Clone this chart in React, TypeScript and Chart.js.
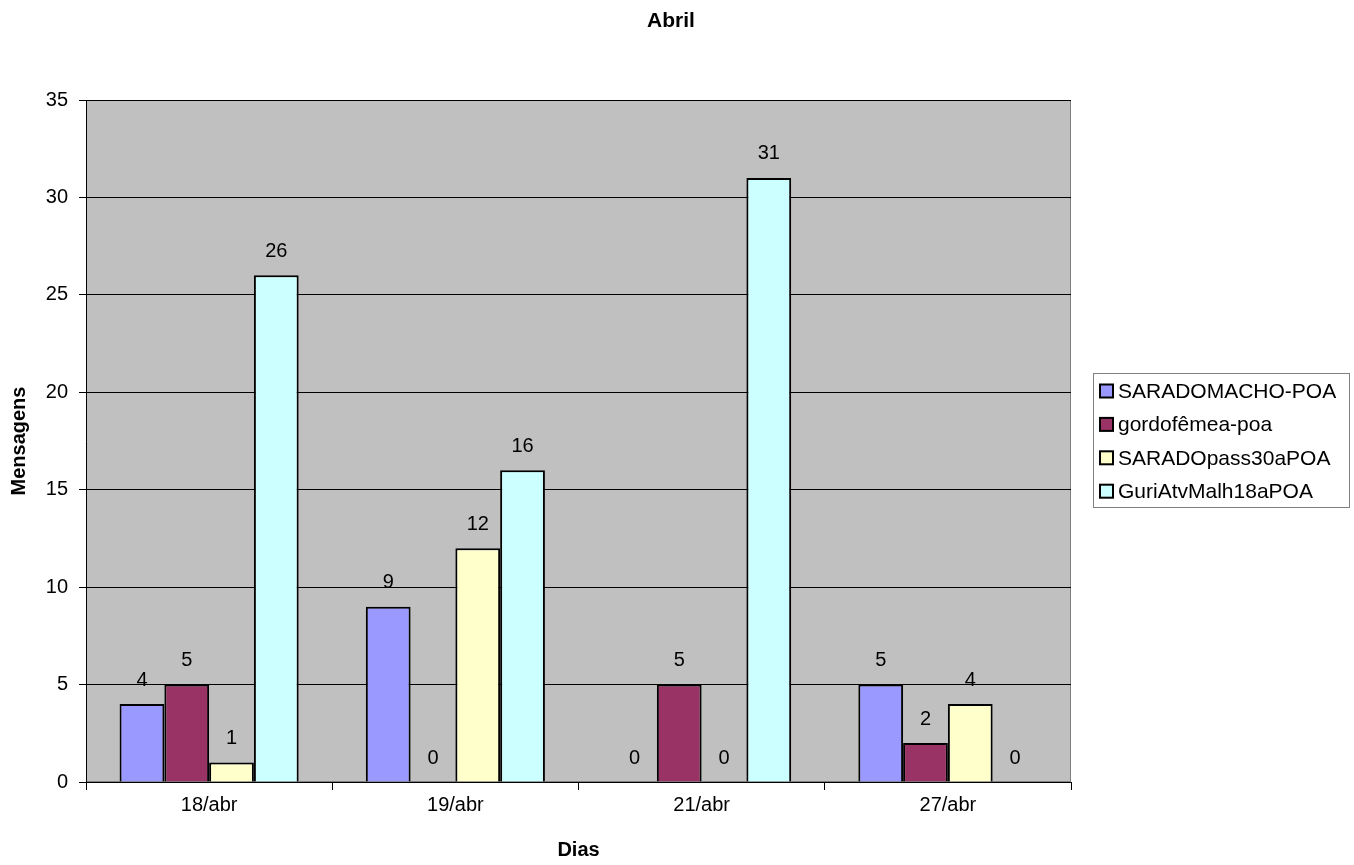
import React, { useEffect, useRef } from "react";
import { Chart, registerables } from "chart.js";

Chart.register(...registerables);

const categories = ["18/abr", "19/abr", "21/abr", "27/abr"];
const seriesNames = ["SARADOMACHO-POA", "gordofêmea-poa", "SARADOpass30aPOA", "GuriAtvMalh18aPOA"];
const saradoMacho = [4, 9, 0, 5];
const gordoFemea = [5, 0, 5, 2];
const saradoPass = [1, 12, 0, 4];
const guriAtv = [26, 16, 31, 0];
const seriesColors = ["#9999FF", "#993366", "#FFFFCC", "#CCFFFF"];
const yTicks = [0, 5, 10, 15, 20, 25, 30, 35];
const chartTitle = "Abril";

const FONT = "'Liberation Sans', Arial, sans-serif";

const plotBg = {
  id: "plotBg",
  beforeDraw(chart: any) {
    const { ctx, chartArea: a } = chart;
    ctx.save();
    ctx.fillStyle = "#C0C0C0";
    ctx.fillRect(a.left, a.top, a.right - a.left, a.bottom - a.top);
    ctx.strokeStyle = "#808080";
    ctx.lineWidth = 1;
    ctx.strokeRect(a.left + 0.5, a.top + 0.5, a.right - a.left - 1, a.bottom - a.top - 1);
    ctx.restore();
  },
  afterDraw(chart: any) {
    const { ctx } = chart;
    ctx.save();
    ctx.font = `bold 21px ${FONT}`;
    ctx.fillStyle = "#000";
    ctx.textAlign = "center";
    ctx.textBaseline = "middle";
    ctx.fillText(chartTitle, 671, 21);
    ctx.restore();
  },
};

const dataLabels = {
  id: "dataLabels",
  afterDatasetsDraw(chart: any) {
    const { ctx } = chart;
    ctx.save();
    ctx.font = `20px ${FONT}`;
    ctx.fillStyle = "#000";
    ctx.textAlign = "center";
    ctx.textBaseline = "middle";
    chart.data.datasets.forEach((ds: any, i: number) => {
      const meta = chart.getDatasetMeta(i);
      meta.data.forEach((bar: any, j: number) => {
        ctx.fillText(String(ds.data[j]), bar.x, bar.y - 24);
      });
    });
    ctx.restore();
  },
};

const customLegend = {
  id: "customLegend",
  afterDraw(chart: any) {
    const { ctx } = chart;
    const x0 = 1093, y0 = 373, w = 257, h = 135;
    ctx.save();
    ctx.fillStyle = "#FFFFFF";
    ctx.fillRect(x0, y0, w, h);
    ctx.strokeStyle = "#808080";
    ctx.lineWidth = 1;
    ctx.strokeRect(x0 + 0.5, y0 + 0.5, w - 1, h - 1);
    ctx.font = `21px ${FONT}`;
    ctx.textBaseline = "middle";
    ctx.textAlign = "left";
    chart.data.datasets.forEach((ds: any, i: number) => {
      const cy = 391 + i * 33.4;
      ctx.fillStyle = ds.backgroundColor;
      ctx.fillRect(1100, cy - 6.5, 13, 13);
      ctx.strokeStyle = "#000";
      ctx.lineWidth = 2;
      ctx.strokeRect(1100, cy - 6.5, 13, 13);
      ctx.fillStyle = "#000";
      ctx.fillText(ds.label, 1118, cy + 1);
    });
    ctx.restore();
  },
};

export default function App() {
  const ref = useRef<HTMLCanvasElement>(null);
  useEffect(() => {
    if (!ref.current) return;
    const values = [saradoMacho, gordoFemea, saradoPass, guriAtv];
    const chart = new Chart(ref.current, {
      type: "bar",
      data: {
        labels: categories,
        datasets: values.map((d, i) => ({
          label: seriesNames[i],
          data: d,
          backgroundColor: seriesColors[i],
          borderColor: "#000000",
          borderWidth: 2,
          categoryPercentage: 4 / 5.5,
          barPercentage: 1,
        })),
      },
      options: {
        responsive: false,
        animation: false,
        devicePixelRatio: 1,
        layout: { padding: { left: 0, top: 100, right: 283, bottom: 0 } },
        plugins: {
          legend: { display: false },
          tooltip: { enabled: false },
          title: { display: false },
        },
        scales: {
          x: {
            grid: { display: true, drawOnChartArea: false, drawTicks: true, tickLength: 8, color: "#000" },
            border: { display: true, color: "#000", width: 1 },
            ticks: { color: "#000", font: { family: FONT, size: 20 }, padding: 3 },
            title: {
              display: true,
              text: "Dias",
              color: "#000",
              font: { family: FONT, size: 20, weight: "bold" },
              padding: { top: 10, bottom: 2.5 },
            },
            afterFit(scale: any) {
              scale.height = 83;
            },
          },
          y: {
            min: 0,
            max: 35,
            afterBuildTicks(scale: any) {
              scale.ticks = yTicks.map((v) => ({ value: v }));
            },
            grid: { color: "#000", drawTicks: true, tickLength: 7 },
            border: { display: true, color: "#000", width: 1 },
            ticks: { color: "#000", font: { family: FONT, size: 20 }, padding: 11 },
            title: {
              display: true,
              text: "Mensagens",
              color: "#000",
              font: { family: FONT, size: 20, weight: "bold" },
              padding: { top: 7, bottom: 4 },
            },
            afterFit(scale: any) {
              scale.width = 86;
            },
          },
        },
      },
      plugins: [plotBg, dataLabels, customLegend],
    } as any);
    return () => chart.destroy();
  }, []);
  return (
    <div style={{ position: "absolute", left: 0, top: 0, width: 1354, height: 865, background: "#fff" }}>
      <canvas ref={ref} width={1354} height={865} style={{ display: "block" }} />
    </div>
  );
}
